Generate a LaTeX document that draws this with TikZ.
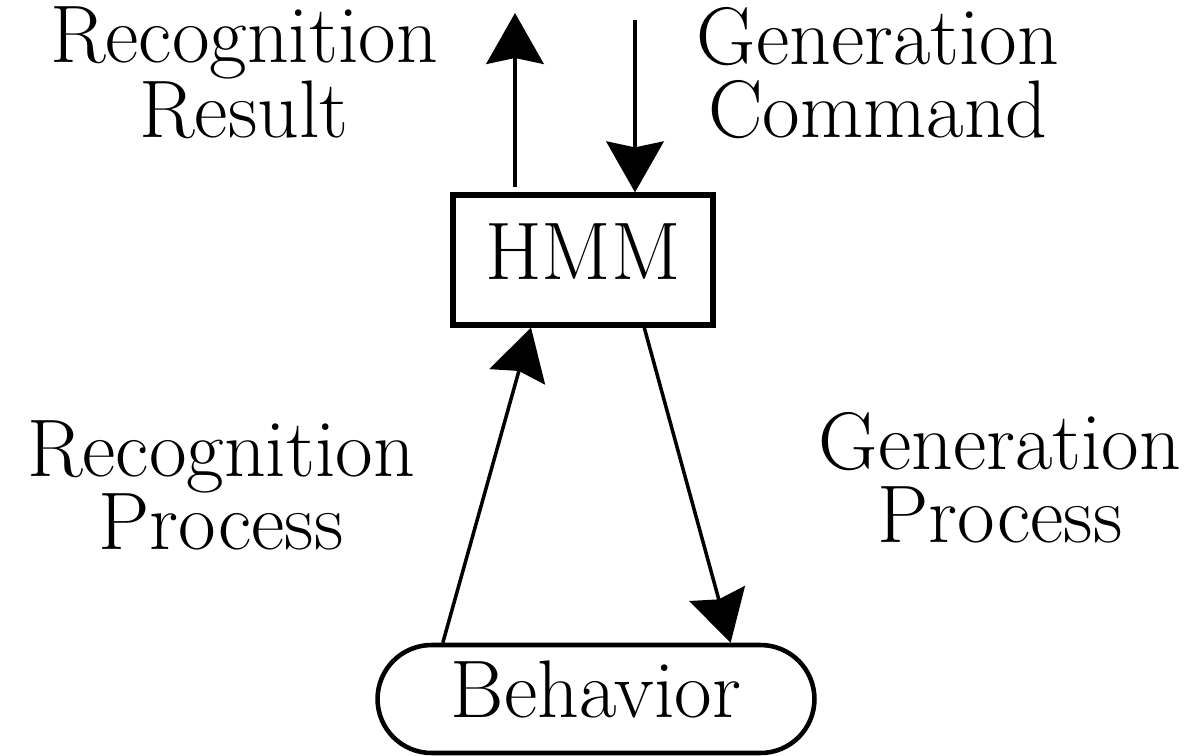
\documentclass[tikz,border=0pt]{standalone}
\usetikzlibrary{arrows.meta,calc}

\begin{document}
\begin{tikzpicture}[x=0.02cm, y=-0.02cm, line width=2pt,
    every node/.style={align=center, font=\fontsize{46.5}{41.5}\selectfont},
    box/.style={draw, line width=3pt, rectangle, minimum width=5.2cm, minimum height=2.6cm, text height=1.1cm, text depth=0.34cm},
    pill/.style={draw, line width=2.6pt, rectangle, rounded corners=1.08cm, minimum width=8.74cm, minimum height=2.16cm, text height=1.1cm, text depth=0.38cm},
    >={Stealth[length=1.02cm, width=1.15cm, inset=0.12cm]}]
        \useasboundingbox (0,0) rectangle (1187,755);
        \node[box] (hmm) at (583,260) {HMM};
        \node[pill] (behavior) at (596,699) {Behavior};
        \node (recres) at (244,73) {Recognition\\Result};
        \node (gencmd) at (878,73) {Generation\\Command};
        \node (recproc) at (221,485) {Recognition\\Process};
        \node (genproc) at (1000,478) {Generation\\Process};
        \coordinate (restop) at (515,13);
        \coordinate (cmdtop) at (635,20);
        
        \draw[->] (hmm.north -| restop) ++(0,-5) -- (restop);
        \draw[->] (cmdtop) -- (cmdtop |- hmm.north);
        \draw[->] ($(behavior.north west)!0.153!(behavior.north east)$) -- ($(hmm.south west)!0.304!(hmm.south east)$);
        \draw[->] ($(hmm.south west)!0.731!(hmm.south east)$) -- ($(behavior.north west)!0.805!(behavior.north east)$);
    \end{tikzpicture}
\end{document}
